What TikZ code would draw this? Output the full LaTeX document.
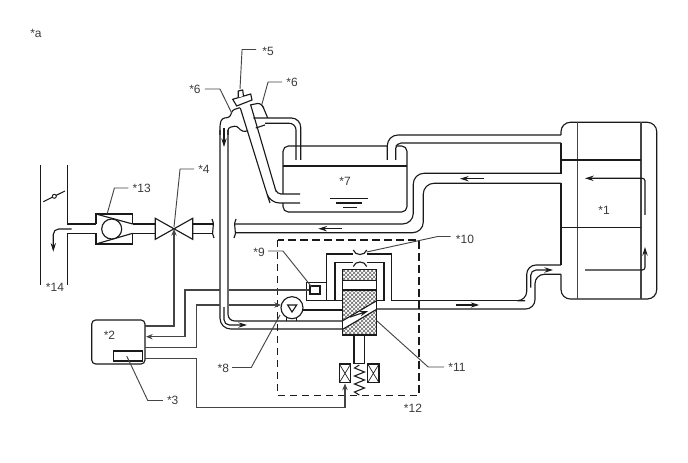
\documentclass[tikz,border=0pt]{standalone}
\usepackage{fontspec}
\setmainfont{Liberation Sans}
\usepackage{xcolor}
\usetikzlibrary{arrows.meta,patterns}
\definecolor{cLine}{HTML}{1A1A1A}
\definecolor{cLead}{HTML}{444444}
\definecolor{cHatch}{HTML}{666666}
\definecolor{cText}{HTML}{3A3A3A}
\tikzset{
  lbl/.style={text=cText, font=\fontsize{9pt}{10pt}\selectfont, inner sep=0pt},
  leader/.style={cLead, line width=0.7pt},
  pipe/.style={cLine, line width=0.85pt, rounded corners=4pt},
  flow/.style={cLine, line width=0.85pt, -{Stealth[length=6.5pt,width=4pt]}, rounded corners=2pt},
  sig/.style={cLead, line width=0.8pt},
  sigtip/.style={sig, -{Stealth[length=5pt,width=4pt]}},
}
\begin{document}
\begin{tikzpicture}[x=0.75pt, y=-0.75pt, >=Stealth]
  \useasboundingbox (0,0) rectangle (688,463);
  % radiador
  \draw[pipe, rounded corners=7pt] (561,135) -- (561,122.3) -- (656.7,122.3) -- (656.7,299) -- (561,299) -- (561,274.3);
  \draw[pipe, sharp corners] (561,142.7) -- (561,174);
  \draw[pipe, sharp corners] (561,183.3) -- (561,265);
  \draw[sig] (577.3,122.3) -- (577.3,299);
  \draw[sig] (641,122.3) -- (641,299);
  \draw[pipe, sharp corners] (561,160) -- (641,160);
  \draw[pipe, sharp corners] (561,227.7) -- (641,227.7);
  \draw[flow] (585,270) -- (645,270) -- (645,247);
  \draw[flow] (645,215) -- (645,178.3) -- (585,178.3);
  % tanque
  \draw[pipe] (387.3,146) -- (283,146) -- (283,194);
  \draw[pipe] (283,203) -- (283,212) -- (407,212) -- (407,146) -- (395.7,146);
  \draw[pipe, sharp corners] (283,166) -- (407,166);
  \draw[cLine, line width=0.6pt] (330,198.3) -- (367.7,198.3);
  \draw[cLine, line width=1pt] (336,203) -- (361.7,203);
  \draw[cLine, line width=0.6pt] (343.3,207.3) -- (356.7,207.3);
  % tubos superiores
  \draw[pipe, rounded corners=8pt] (387.3,160) -- (387.3,135) -- (561,135);
  \draw[pipe] (395.7,160) -- (395.7,143) -- (561,143);
  \draw[pipe, rounded corners=8pt] (561,173.3) -- (413.3,173.3) -- (413.3,224) -- (235,224);
  \draw[pipe, rounded corners=8pt] (561,183.3) -- (423.3,183.3) -- (423.3,232.7) -- (235,232.7);
  \draw[flow] (484,178.7) -- (460,178.7);
  \draw[flow] (342.3,228.7) -- (318.3,228.7);
  % interrupcao
  \draw[pipe, sharp corners] (212,219) .. controls (216,224) and (210,233) .. (214,238);
  \draw[pipe, sharp corners] (236,219) .. controls (232,224) and (238,233) .. (234,238);
  % tampa e tubo inclinado
  \draw[pipe, rounded corners=7pt] (240.3,108) -- (267,194) -- (270,203) -- (300,203);
  \draw[pipe, rounded corners=3pt] (250.7,105) -- (275,188) -- (277,194) -- (300,194);
  \draw[pipe, fill=white, sharp corners] (232.7,99.3) -- (250.7,94) -- (252,100) -- (236.7,106) -- cycle;
  \draw[pipe, fill=white, sharp corners] (238.3,97.5) -- (238.3,91) -- (242.7,90) -- (243.5,96);
  % carcaca
  \draw[pipe, rounded corners=2pt] (220,135) -- (220,124) -- (222,118.3) -- (230,117.3) -- (232.3,110) -- (240,107.7);
  \draw[pipe, rounded corners=2pt] (228,135) -- (228,127.7) -- (237,125.7) -- (240,130) -- (245,132) -- (248,130.5);
  \draw[pipe, rounded corners=2pt] (250,105) -- (260,103) -- (263,106.7) -- (267.7,118);
  \draw[pipe, sharp corners] (255.7,128) -- (265,125);
  \draw[pipe, rounded corners=7pt] (253.3,118) -- (300.7,118) -- (300.7,160);
  \draw[pipe, rounded corners=5pt] (265,123.3) -- (296,123.3) -- (296,160);
  % tubo de retorno
  \draw[pipe, rounded corners=8pt] (220,130) -- (220,329) -- (342.7,329);
  \draw[pipe, rounded corners=5pt] (228,130) -- (228,321) -- (342.7,321);
  \draw[flow] (224,128) -- (224,147);
  \draw[flow, rounded corners=4pt] (224,307) -- (224,325) -- (247,325);
  % linha de entrada
  \draw[pipe, sharp corners] (67.7,165) -- (67.7,224) -- (96,224);
  \draw[pipe, sharp corners] (67.7,285) -- (67.7,233.3) -- (96,233.3);
  \draw[pipe, sharp corners] (40.7,165) -- (40.7,285);
  \draw[cLine, line width=0.8pt] (43.3,201.7) -- (65,191);
  \draw[cLine, fill=white, line width=0.7pt] (54.3,196.3) circle (2);
  \draw[flow, rounded corners=4pt] (71.7,229) -- (53.3,229) -- (53.3,251.7);
  % filtro
  \draw[pipe, sharp corners] (96,224) -- (96,214) -- (132.7,214) -- (132.7,224);
  \draw[pipe, sharp corners] (96,233.3) -- (96,244) -- (132.7,244) -- (132.7,233.3);
  \draw[pipe, sharp corners] (96,214) -- (132.7,224);
  \draw[pipe, sharp corners] (96,244) -- (132.7,233.3);
  \draw[pipe, fill=white] (111.7,229) circle (10);
  \draw[pipe, sharp corners] (132.7,224) -- (155.3,224);
  \draw[pipe, sharp corners] (132.7,233.3) -- (155.3,233.3);
  % valvula
  \draw[pipe, sharp corners] (155.3,218.3) -- (155.3,239.3) -- (192.7,218.3) -- (192.7,239.3) -- cycle;
  \draw[pipe, sharp corners] (192.7,224) -- (213,224);
  \draw[pipe, sharp corners] (192.7,233.3) -- (213,233.3);
  % caixa tracejada
  \draw[cLine, line width=1pt, dash pattern=on 5.5pt off 3.5pt] (277.7,240) rectangle (419,395.7);
  % bomba e bloco
  \draw[pipe, sharp corners] (303,310) -- (342.7,310);
  \draw[pipe, sharp corners] (286.7,316) -- (286.7,321);
  \draw[pipe, sharp corners] (296.7,316) -- (296.7,321);
  \draw[pipe, fill=white] (292,307.7) circle (11);
  \draw[pipe, sharp corners] (287.7,305) -- (296.7,305) -- (292,312) -- cycle;
  \draw[pipe, sharp corners] (306.7,300.7) -- (306.7,282.7) -- (326.7,282.7);
  \draw[pipe, sharp corners] (310,286) rectangle (320,294);
  \draw[pipe, sharp corners] (326.7,300.7) -- (326.7,254) -- (353.3,254);
  \draw[pipe, sharp corners] (366.7,254) -- (391.7,254) -- (391.7,300.7) -- (525,300.7);
  \draw[pipe, sharp corners] (335,300.7) -- (335,262.3) -- (353.3,262.3);
  \draw[pipe, sharp corners] (366.7,262.3) -- (384,262.3) -- (384,300.7) -- (376.7,300.7);
  \draw[pipe, sharp corners] (306.7,300.7) -- (342.7,300.7);
  \draw[pipe, sharp corners] (353.3,250) .. controls (355,256) and (365,256) .. (366.7,250);
  \draw[pipe, sharp corners] (353.3,266.5) .. controls (355,260.5) and (365,260.5) .. (366.7,266.5);
  \fill[pattern=crosshatch, pattern color=cHatch] (342.7,269.3) rectangle (376.7,280.7);
  \fill[pattern=crosshatch, pattern color=cHatch] (342.7,290) rectangle (376.7,335);
  \fill[white] (342.7,320.7) -- (376.7,300.7) -- (376.7,309.3) -- (342.7,329.3) -- cycle;
  \draw[pipe, sharp corners] (342.7,269.3) rectangle (376.7,335);
  \draw[pipe, sharp corners] (342.7,280.7) -- (376.7,280.7);
  \draw[pipe, sharp corners] (342.7,290) -- (376.7,290);
  \draw[pipe, sharp corners] (342.7,320.7) -- (376.7,300.7);
  \draw[pipe, sharp corners] (342.7,329.3) -- (376.7,309.3);
  \draw[flow] (350,317) -- (368.3,311);
  \draw[pipe, sharp corners] (354,335) -- (354,363.3) -- (364.3,363.3) -- (364.3,335);
  \draw[cLine, line width=0.8pt] (359.3,365) -- (354.5,368) -- (364.5,372) -- (354.5,376) -- (364.5,380) -- (354.5,384) -- (364.5,388) -- (354.5,392) -- (359.3,395);
  \foreach \xl/\xr in {339.3/350.7,367.7/379}{
    \draw[pipe, sharp corners] (\xl,364) rectangle (\xr,382.7);
    \draw[cLine, line width=0.5pt] (\xl,364) -- (\xr,382.7) (\xl,382.7) -- (\xr,364);
  }
  % saida para o radiador
  \draw[pipe, rounded corners=7pt] (376.7,309) -- (535,309) -- (535,274.3) -- (561,274.3);
  \draw[pipe, rounded corners=7pt] (525,300.7) -- (526.7,300.7) -- (526.7,265) -- (561,265);
  \draw[flow, rounded corners=4pt] (530.7,287.7) -- (530.7,270) -- (553,270);
  \draw[flow] (456,305) -- (479.3,305);
  % ECU
  \draw[pipe, rounded corners=3pt] (91.7,320) rectangle (145,364);
  \draw[pipe, sharp corners] (113.3,351) rectangle (142.7,361);
  \draw[sigtip] (145,326) -- (174,326) -- (174,229);
  \draw[sigtip] (219.5,290) -- (185,290) -- (185,336.7) -- (146,336.7);
  \draw[sig] (228.5,290) -- (309.3,290);
  \draw[sig] (145,347.7) -- (196.7,347.7) -- (196.7,305) -- (219.5,305);
  \draw[sigtip] (228.5,305) -- (281,305);
  \draw[sigtip] (145,358.3) -- (196.7,358.3) -- (196.7,407.3) -- (345,407.3) -- (345,383.5);
  % rotulos
  \node[lbl] (lblA) at (36,33.5) {*a};
  \node[lbl] (lbl1) at (604,210) {*1};
  \node[lbl] (lbl2) at (109.5,335.5) {*2};
  \node[lbl] (lbl3) at (172.7,400.5) {*3};
  \node[lbl] (lbl4) at (204,169) {*4};
  \node[lbl] (lbl5) at (268,51) {*5};
  \node[lbl] (lbl6a) at (195,89) {*6};
  \node[lbl] (lbl6b) at (292,82) {*6};
  \node[lbl] (lbl7) at (345,181) {*7};
  \node[lbl] (lbl8) at (223.3,368.5) {*8};
  \node[lbl] (lbl9) at (259,252) {*9};
  \node[lbl] (lbl10) at (465,239) {*10};
  \node[lbl] (lbl11) at (457,367.5) {*11};
  \node[lbl] (lbl12) at (413,408) {*12};
  \node[lbl] (lbl13) at (141.7,188) {*13};
  \node[lbl] (lbl14) at (55,287) {*14};
  % linhas de chamada
  \coordinate (tip3) at (126.7,356);
  \coordinate (tip4) at (174,227);
  \coordinate (tip5) at (240,89);
  \coordinate (tip6a) at (231.7,113);
  \coordinate (tip6b) at (261.7,105);
  \coordinate (tip8) at (280,315);
  \coordinate (tip9) at (311.7,287);
  \coordinate (tip10) at (366.7,252);
  \coordinate (tip11) at (376.7,320.7);
  \coordinate (tip13) at (107.3,213.3);
  \draw[leader] (lbl3.west) ++(-4,0) -- ++(-15,0) -- (tip3);
  \draw[leader] (lbl4.west) ++(-4,0) -- ++(-14,0) -- (tip4);
  \draw[leader] (lbl5.west) ++(-6,-1.5) -- ++(-14,0) -- (tip5);
  \draw[leader] (lbl6a.east) ++(4,0) -- ++(15,0) -- (tip6a);
  \draw[leader] (lbl6b.west) ++(-4,0) -- ++(-14,0) -- (tip6b);
  \draw[leader] (lbl8.east) ++(3,-1) -- ++(19,0) -- (tip8);
  \draw[leader] (lbl9.east) ++(3,-1) -- ++(15,0) -- (tip9);
  \draw[leader] (lbl10.west) ++(-5,-2.5) -- ++(-13,0) -- (tip10);
  \draw[leader] (lbl11.west) ++(-4,-0.5) -- ++(-16,0) -- (tip11);
  \draw[leader] (lbl13.west) ++(-4,0) -- ++(-14,0) -- (tip13);
\end{tikzpicture}
\end{document}
